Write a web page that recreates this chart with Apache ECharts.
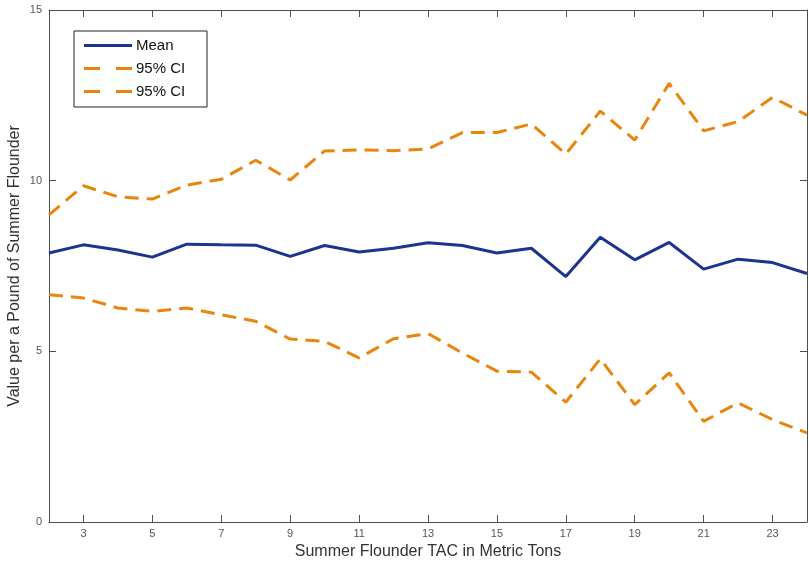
<!DOCTYPE html>
<html>
<head>
<meta charset="utf-8">
<title>Summer Flounder Value</title>
<script src="https://cdn.jsdelivr.net/npm/echarts@6/dist/echarts.min.js"></script>
<style>
  html, body { margin: 0; padding: 0; background: #fff; }
  #chart { width: 809px; height: 564px; }
</style>
</head>
<body>
<div id="chart"></div>
<script>
// TAC values (metric tons) on the x axis
const tac = [2, 3, 4, 5, 6, 7, 8, 9, 10, 11, 12, 13, 14, 15, 16, 17, 18, 19, 20, 21, 22, 23, 24];

// Mean value per pound and the 95% confidence bounds
const meanValue = [7.88, 8.12, 7.97, 7.76, 8.14, 8.12, 8.11, 7.78, 8.10, 7.91, 8.02, 8.18, 8.10, 7.88, 8.02, 7.19, 8.34, 7.68, 8.19, 7.41, 7.70, 7.60, 7.28];
const upperCI = [9.00, 9.85, 9.53, 9.46, 9.87, 10.04, 10.60, 10.02, 10.87, 10.90, 10.88, 10.93, 11.41, 11.41, 11.66, 10.78, 12.04, 11.19, 12.85, 11.46, 11.73, 12.44, 11.92];
const lowerCI = [6.66, 6.56, 6.27, 6.17, 6.27, 6.07, 5.88, 5.36, 5.29, 4.81, 5.37, 5.52, 4.95, 4.42, 4.39, 3.51, 4.78, 3.44, 4.37, 2.95, 3.49, 3.00, 2.61];

// Tick positions
const xTicks = [3, 5, 7, 9, 11, 13, 15, 17, 19, 21, 23];
const yTicks = [0, 5, 10, 15];

const seriesNames = ['Mean', '95% CI', '95% CI'];

const pairs = (ys) => tac.map((x, i) => [x, ys[i]]);

const axisColor = '#4d4d4d';
const blue = '#1c3490';
const orange = '#e8850e';
const dash = [14, 8];
const fontFamily = '"Liberation Sans", Arial, Helvetica, sans-serif';

const chart = echarts.init(document.getElementById('chart'), null, { renderer: 'canvas' });

const tickStyle = { show: true, inside: true, length: 7, lineStyle: { color: axisColor, width: 1 } };

// Boxed legend drawn as graphic elements so both CI entries are listed
const legendBox = { x: 74, y: 31, w: 133, h: 76, rowY0: 14.5, rowGap: 23 };
const legendStyles = [
  { stroke: blue, lineDash: null },
  { stroke: orange, lineDash: [16, 16] },
  { stroke: orange, lineDash: [16, 16] }
];
const legendChildren = [
  {
    type: 'rect',
    shape: { x: 0, y: 0, width: legendBox.w, height: legendBox.h },
    style: { fill: '#ffffff', stroke: '#222222', lineWidth: 1 }
  }
];
seriesNames.forEach((name, i) => {
  const cy = legendBox.rowY0 + i * legendBox.rowGap;
  legendChildren.push({
    type: 'line',
    shape: { x1: 10, y1: cy, x2: 58, y2: cy },
    style: { stroke: legendStyles[i].stroke, lineWidth: 3, lineDash: legendStyles[i].lineDash }
  });
  legendChildren.push({
    type: 'text',
    x: 62, y: cy,
    style: { text: name, fontFamily, fontSize: 15, fill: '#111111', verticalAlign: 'middle', align: 'left' }
  });
});

chart.setOption({
  animation: false,
  backgroundColor: '#ffffff',
  grid: { left: 49, right: 2, top: 10, bottom: 42, containLabel: false, outerBoundsMode: 'none' },
  graphic: [
    { type: 'group', x: legendBox.x, y: legendBox.y, z: 100, children: legendChildren }
  ],
  xAxis: [
    {
      type: 'value', min: 2, max: 24,
      axisLine: { show: true, onZero: false, lineStyle: { color: axisColor, width: 1 } },
      axisTick: Object.assign({ customValues: xTicks }, tickStyle),
      axisLabel: { customValues: xTicks, color: '#555555', fontFamily, fontSize: 11, margin: 6 },
      splitLine: { show: false },
      name: 'Summer Flounder TAC in Metric Tons',
      nameLocation: 'middle',
      nameGap: 22,
      nameMoveOverlap: false,
      nameTextStyle: { fontFamily, fontSize: 16, color: '#333333' }
    },
    {
      type: 'value', min: 2, max: 24, position: 'top',
      axisLine: { show: true, onZero: false, lineStyle: { color: axisColor, width: 1 } },
      axisTick: Object.assign({ customValues: xTicks }, tickStyle),
      axisLabel: { show: false },
      splitLine: { show: false }
    }
  ],
  yAxis: [
    {
      type: 'value', min: 0, max: 15,
      axisLine: { show: true, onZero: false, lineStyle: { color: axisColor, width: 1 } },
      axisTick: Object.assign({ customValues: yTicks }, tickStyle),
      axisLabel: { customValues: yTicks, color: '#555555', fontFamily, fontSize: 11, margin: 7 },
      splitLine: { show: false },
      name: 'Value per a Pound of Summer Flounder',
      nameLocation: 'middle',
      nameGap: 26,
      nameMoveOverlap: false,
      nameTextStyle: { fontFamily, fontSize: 16, color: '#333333' }
    },
    {
      type: 'value', min: 0, max: 15, position: 'right',
      axisLine: { show: true, onZero: false, lineStyle: { color: axisColor, width: 1 } },
      axisTick: Object.assign({ customValues: yTicks }, tickStyle),
      axisLabel: { show: false },
      splitLine: { show: false }
    }
  ],
  series: [
    {
      name: seriesNames[0], type: 'line', data: pairs(meanValue),
      showSymbol: false, symbol: 'none',
      lineStyle: { color: blue, width: 3 },
      itemStyle: { color: blue },
      z: 3
    },
    {
      name: seriesNames[1], type: 'line', data: pairs(upperCI),
      showSymbol: false, symbol: 'none',
      lineStyle: { color: orange, width: 3, type: dash },
      itemStyle: { color: orange }
    },
    {
      name: seriesNames[2], type: 'line', data: pairs(lowerCI),
      showSymbol: false, symbol: 'none',
      lineStyle: { color: orange, width: 3, type: dash },
      itemStyle: { color: orange }
    }
  ]
});
</script>
</body>
</html>
